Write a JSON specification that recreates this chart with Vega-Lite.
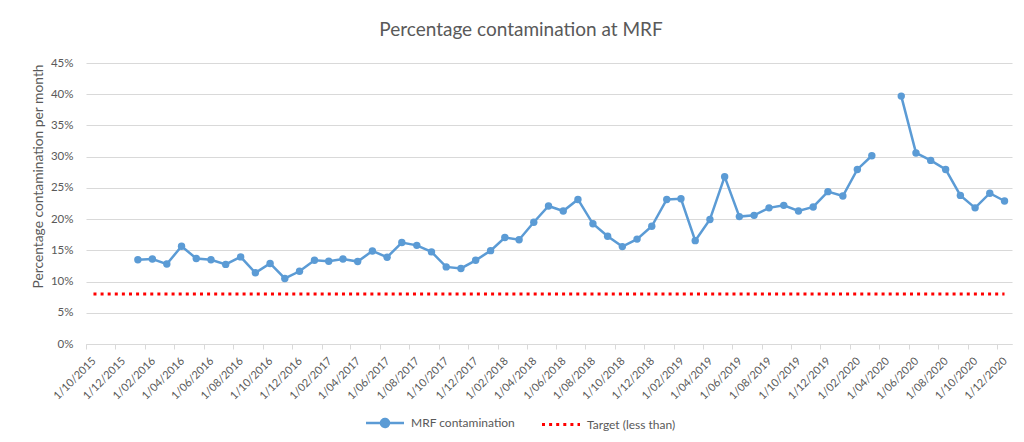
{
  "$schema": "https://vega.github.io/schema/vega-lite/v6.json",
  "autosize": "none",
  "width": 926,
  "height": 281,
  "padding": {"left": 86, "top": 63, "right": 12, "bottom": 98},
  "background": "white",
  "config": {
    "font": "Lato",
    "view": {"stroke": null}
  },
  "title": {
    "text": "Percentage contamination at MRF",
    "font": "Lato",
    "fontSize": 19,
    "fontWeight": "normal",
    "color": "#595959",
    "anchor": "middle",
    "baseline": "alphabetic",
    "offset": 2,
    "dx": -28
  },
  "datasets": {
    "mrf": [
      {"date": "2016-01-01", "value": 0.135, "series": "MRF contamination"},
      {"date": "2016-02-01", "value": 0.136, "series": "MRF contamination"},
      {"date": "2016-03-01", "value": 0.128, "series": "MRF contamination"},
      {"date": "2016-04-01", "value": 0.1565, "series": "MRF contamination"},
      {"date": "2016-05-01", "value": 0.137, "series": "MRF contamination"},
      {"date": "2016-06-01", "value": 0.135, "series": "MRF contamination"},
      {"date": "2016-07-01", "value": 0.1275, "series": "MRF contamination"},
      {"date": "2016-08-01", "value": 0.1395, "series": "MRF contamination"},
      {"date": "2016-09-01", "value": 0.114, "series": "MRF contamination"},
      {"date": "2016-10-01", "value": 0.129, "series": "MRF contamination"},
      {"date": "2016-11-01", "value": 0.105, "series": "MRF contamination"},
      {"date": "2016-12-01", "value": 0.1165, "series": "MRF contamination"},
      {"date": "2017-01-01", "value": 0.134, "series": "MRF contamination"},
      {"date": "2017-02-01", "value": 0.1325, "series": "MRF contamination"},
      {"date": "2017-03-01", "value": 0.136, "series": "MRF contamination"},
      {"date": "2017-04-01", "value": 0.132, "series": "MRF contamination"},
      {"date": "2017-05-01", "value": 0.149, "series": "MRF contamination"},
      {"date": "2017-06-01", "value": 0.139, "series": "MRF contamination"},
      {"date": "2017-07-01", "value": 0.1625, "series": "MRF contamination"},
      {"date": "2017-08-01", "value": 0.158, "series": "MRF contamination"},
      {"date": "2017-09-01", "value": 0.1475, "series": "MRF contamination"},
      {"date": "2017-10-01", "value": 0.1235, "series": "MRF contamination"},
      {"date": "2017-11-01", "value": 0.121, "series": "MRF contamination"},
      {"date": "2017-12-01", "value": 0.134, "series": "MRF contamination"},
      {"date": "2018-01-01", "value": 0.1495, "series": "MRF contamination"},
      {"date": "2018-02-01", "value": 0.1705, "series": "MRF contamination"},
      {"date": "2018-03-01", "value": 0.167, "series": "MRF contamination"},
      {"date": "2018-04-01", "value": 0.195, "series": "MRF contamination"},
      {"date": "2018-05-01", "value": 0.221, "series": "MRF contamination"},
      {"date": "2018-06-01", "value": 0.213, "series": "MRF contamination"},
      {"date": "2018-07-01", "value": 0.2315, "series": "MRF contamination"},
      {"date": "2018-08-01", "value": 0.1925, "series": "MRF contamination"},
      {"date": "2018-09-01", "value": 0.1725, "series": "MRF contamination"},
      {"date": "2018-10-01", "value": 0.156, "series": "MRF contamination"},
      {"date": "2018-11-01", "value": 0.168, "series": "MRF contamination"},
      {"date": "2018-12-01", "value": 0.1885, "series": "MRF contamination"},
      {"date": "2019-01-01", "value": 0.2315, "series": "MRF contamination"},
      {"date": "2019-02-01", "value": 0.2325, "series": "MRF contamination"},
      {"date": "2019-03-01", "value": 0.1655, "series": "MRF contamination"},
      {"date": "2019-04-01", "value": 0.1995, "series": "MRF contamination"},
      {"date": "2019-05-01", "value": 0.268, "series": "MRF contamination"},
      {"date": "2019-06-01", "value": 0.204, "series": "MRF contamination"},
      {"date": "2019-07-01", "value": 0.206, "series": "MRF contamination"},
      {"date": "2019-08-01", "value": 0.218, "series": "MRF contamination"},
      {"date": "2019-09-01", "value": 0.222, "series": "MRF contamination"},
      {"date": "2019-10-01", "value": 0.213, "series": "MRF contamination"},
      {"date": "2019-11-01", "value": 0.2195, "series": "MRF contamination"},
      {"date": "2019-12-01", "value": 0.244, "series": "MRF contamination"},
      {"date": "2020-01-01", "value": 0.237, "series": "MRF contamination"},
      {"date": "2020-02-01", "value": 0.2795, "series": "MRF contamination"},
      {"date": "2020-03-01", "value": 0.3015, "series": "MRF contamination"},
      {"date": "2020-04-01", "value": null, "series": "MRF contamination"},
      {"date": "2020-05-01", "value": 0.397, "series": "MRF contamination"},
      {"date": "2020-06-01", "value": 0.306, "series": "MRF contamination"},
      {"date": "2020-07-01", "value": 0.294, "series": "MRF contamination"},
      {"date": "2020-08-01", "value": 0.2795, "series": "MRF contamination"},
      {"date": "2020-09-01", "value": 0.238, "series": "MRF contamination"},
      {"date": "2020-10-01", "value": 0.218, "series": "MRF contamination"},
      {"date": "2020-11-01", "value": 0.2415, "series": "MRF contamination"},
      {"date": "2020-12-01", "value": 0.229, "series": "MRF contamination"}
    ],
    "target": [
      {"date": "2015-10-01", "value": 0.08, "series": "Target (less than)"},
      {"date": "2020-12-01", "value": 0.08, "series": "Target (less than)"}
    ]
  },
  "encoding": {
    "x": {
      "field": "date",
      "type": "temporal",
      "timeUnit": "utcyearmonth",
      "bandPosition": 0.5,
      "scale": {
        "type": "utc",
        "domain": [
          {"year": 2015, "month": 10, "date": 1, "utc": true},
          {"year": 2021, "month": 1, "date": 1, "utc": true}
        ]
      },
      "axis": {
        "title": null,
        "format": "%-d/%m/%Y",
        "values": [
          {"year": 2015, "month": 10, "date": 1, "utc": true},
          {"year": 2015, "month": 12, "date": 1, "utc": true},
          {"year": 2016, "month": 2, "date": 1, "utc": true},
          {"year": 2016, "month": 4, "date": 1, "utc": true},
          {"year": 2016, "month": 6, "date": 1, "utc": true},
          {"year": 2016, "month": 8, "date": 1, "utc": true},
          {"year": 2016, "month": 10, "date": 1, "utc": true},
          {"year": 2016, "month": 12, "date": 1, "utc": true},
          {"year": 2017, "month": 2, "date": 1, "utc": true},
          {"year": 2017, "month": 4, "date": 1, "utc": true},
          {"year": 2017, "month": 6, "date": 1, "utc": true},
          {"year": 2017, "month": 8, "date": 1, "utc": true},
          {"year": 2017, "month": 10, "date": 1, "utc": true},
          {"year": 2017, "month": 12, "date": 1, "utc": true},
          {"year": 2018, "month": 2, "date": 1, "utc": true},
          {"year": 2018, "month": 4, "date": 1, "utc": true},
          {"year": 2018, "month": 6, "date": 1, "utc": true},
          {"year": 2018, "month": 8, "date": 1, "utc": true},
          {"year": 2018, "month": 10, "date": 1, "utc": true},
          {"year": 2018, "month": 12, "date": 1, "utc": true},
          {"year": 2019, "month": 2, "date": 1, "utc": true},
          {"year": 2019, "month": 4, "date": 1, "utc": true},
          {"year": 2019, "month": 6, "date": 1, "utc": true},
          {"year": 2019, "month": 8, "date": 1, "utc": true},
          {"year": 2019, "month": 10, "date": 1, "utc": true},
          {"year": 2019, "month": 12, "date": 1, "utc": true},
          {"year": 2020, "month": 2, "date": 1, "utc": true},
          {"year": 2020, "month": 4, "date": 1, "utc": true},
          {"year": 2020, "month": 6, "date": 1, "utc": true},
          {"year": 2020, "month": 8, "date": 1, "utc": true},
          {"year": 2020, "month": 10, "date": 1, "utc": true},
          {"year": 2020, "month": 12, "date": 1, "utc": true}
        ],
        "labelAngle": -45,
        "labelAlign": "right",
        "labelBaseline": "middle",
        "labelOffset": 8,
        "labelPadding": 10,
        "labelFont": "Lato",
        "labelFontSize": 11,
        "labelColor": "#595959",
        "labelOverlap": false,
        "labelBound": false,
        "labelFlush": false,
        "grid": false,
        "domainColor": "#d9d9d9",
        "domainWidth": 1,
        "tickColor": "#d9d9d9",
        "tickSize": 5
      }
    },
    "y": {
      "field": "value",
      "type": "quantitative",
      "scale": {"domain": [0, 0.45], "nice": false, "zero": true},
      "axis": {
        "title": "Percentage contamination per month",
        "titleFont": "Lato",
        "titleFontSize": 13.8,
        "titleFontWeight": "normal",
        "titleColor": "#595959",
        "titleAngle": -90,
        "titleAlign": "center",
        "titleBaseline": "middle",
        "titleX": -48,
        "titleY": 113,
        "values": [0, 0.05, 0.1, 0.15, 0.2, 0.25, 0.3, 0.35, 0.4, 0.45],
        "format": ".0%",
        "labelFont": "Lato",
        "labelFontSize": 11.5,
        "labelColor": "#595959",
        "labelPadding": 13,
        "ticks": false,
        "domain": false,
        "gridColor": "#d9d9d9",
        "gridWidth": 1
      }
    }
  },
  "layer": [
    {
      "data": {"name": "target"},
      "mark": {"type": "line", "strokeWidth": 3, "strokeDash": [3, 4.1], "strokeCap": "butt"},
      "encoding": {
        "color": {"field": "series", "type": "nominal"}
      }
    },
    {
      "data": {"name": "mrf"},
      "mark": {"type": "line", "strokeWidth": 2.5, "invalid": "break-paths-show-domains"},
      "encoding": {
        "color": {
          "field": "series",
          "type": "nominal",
          "scale": {
            "domain": ["MRF contamination", "Target (less than)"],
            "range": ["#5b9bd5", "#ff0000"]
          },
          "legend": {
            "title": null,
            "orient": "none",
            "direction": "horizontal",
            "legendX": 293,
            "legendY": 354,
            "symbolSize": 1444,
            "symbolStrokeWidth": 2.5,
            "labelFont": "Lato",
            "labelFontSize": 12,
            "labelColor": "#595959",
            "labelOffset": 20,
            "columnPadding": 20,
            "encode": {
              "symbols": {
                "update": {
                  "shape": {"signal": "datum.value === 'Target (less than)' ? 'M-1,0H1' : 'M-1,0H1M0.21,0A0.21,0.21 0 1,1 -0.21,0A0.21,0.21 0 1,1 0.21,0'"},
                  "strokeDash": {"signal": "datum.value === 'Target (less than)' ? [3, 4.1] : [1, 0]"},
                  "strokeWidth": {"signal": "datum.value === 'Target (less than)' ? 3 : 2.5"},
                  "fill": {"signal": "datum.value === 'Target (less than)' ? 'transparent' : '#5b9bd5'"},
                  "stroke": {"signal": "datum.value === 'Target (less than)' ? '#ff0000' : '#5b9bd5'"}
                }
              }
            }
          }
        }
      }
    },
    {
      "data": {"name": "mrf"},
      "mark": {"type": "point", "filled": true, "size": 55, "opacity": 1},
      "encoding": {
        "color": {"field": "series", "type": "nominal"}
      }
    }
  ]
}
